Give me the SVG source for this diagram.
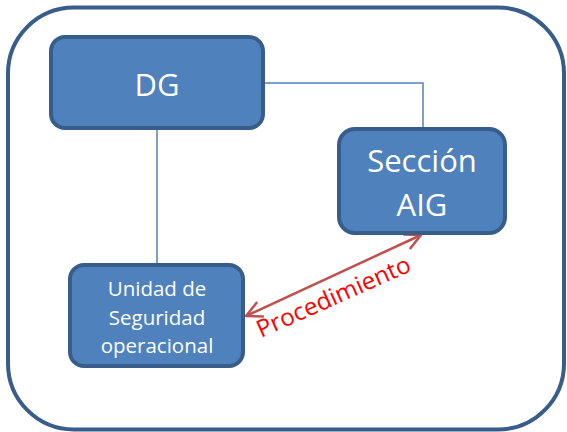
<svg xmlns="http://www.w3.org/2000/svg" width="567" height="432" viewBox="0 0 567 432">
<style>
.box{fill:#4f81bd;stroke:#385d8a;stroke-width:4}
.lbl{fill:#fff;font-family:"Open Sans","Liberation Sans",sans-serif;text-anchor:middle}
.conn{stroke:#4f81bd;stroke-width:1.5;fill:none}
</style>
<defs>
<marker id="ah" viewBox="0 0 20 20" refX="19" refY="10" markerWidth="20" markerHeight="20" markerUnits="userSpaceOnUse" orient="auto-start-reverse">
<path d="M3,2 L19,10 L3,18" fill="none" stroke="#c0504d" stroke-width="2.5"/>
</marker>
</defs>
<rect x="8" y="7.5" width="556" height="422" rx="66" fill="#fff" stroke="#385d8a" stroke-width="4"/>
<g id="connectors">
<path class="conn" d="M263,83 H423 V129"/>
<path class="conn" d="M157,128 V265"/>
<line x1="246" y1="316" x2="421" y2="235" stroke="#c0504d" stroke-width="2.5" marker-start="url(#ah)" marker-end="url(#ah)"/>
<text x="0" y="0" transform="translate(261,338) rotate(-24)" font-family="'Open Sans','Liberation Sans',sans-serif" font-size="24" fill="#ff0000" textLength="166" lengthAdjust="spacingAndGlyphs">Procedimiento</text>
</g>
<g id="dg">
<rect class="box" x="51" y="37" width="212" height="91" rx="14"/>
<text class="lbl" x="157" y="96" font-size="31">DG</text>
</g>
<g id="seccion">
<rect class="box" x="339" y="129" width="166" height="104" rx="16"/>
<text class="lbl" x="422" y="172" font-size="31">Sección</text>
<text class="lbl" x="422" y="216" font-size="31">AIG</text>
</g>
<g id="unidad">
<rect class="box" x="70" y="265" width="173" height="101" rx="14"/>
<text class="lbl" x="157" y="296" font-size="20.5">Unidad de</text>
<text class="lbl" x="157" y="325" font-size="20.5">Seguridad</text>
<text class="lbl" x="157" y="353" font-size="20.5">operacional</text>
</g>
</svg>
